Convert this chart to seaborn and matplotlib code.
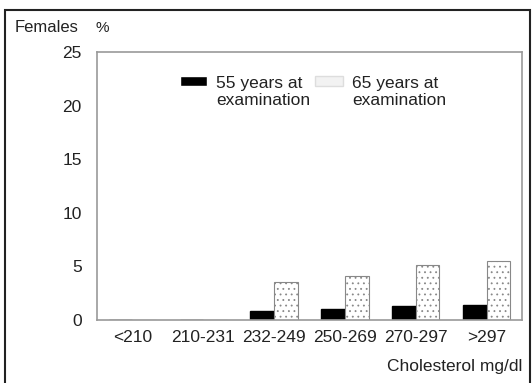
import pandas as pd
import matplotlib
matplotlib.use("Agg")
import matplotlib.pyplot as plt
import seaborn as sns
from matplotlib.patches import Rectangle

# Data
categories = ["<210", "210-231", "232-249", "250-269", "270-297", ">297"]
age55 = [0, 0, 0.85, 1.0, 1.3, 1.4]
age65 = [0, 0, 3.5, 4.1, 5.1, 5.5]
groups = ["55 years at\nexamination", "65 years at\nexamination"]

df = pd.DataFrame({
    "Cholesterol": categories * 2,
    "Percent": age55 + age65,
    "Group": [groups[0]] * len(categories) + [groups[1]] * len(categories),
})

sns.set_style("white")
plt.rcParams["font.family"] = ["Liberation Sans", "DejaVu Sans"]
plt.rcParams["hatch.color"] = "#b5b5b5"
plt.rcParams["hatch.linewidth"] = 0.6

fig = plt.figure(figsize=(5.32, 3.83), dpi=100)
ax = fig.add_axes([97 / 532, 1 - 320 / 383, 425 / 532, 268 / 383])

sns.barplot(data=df, x="Cholesterol", y="Percent", hue="Group",
            order=categories, hue_order=groups, palette=["black", "white"],
            width=0.67, dodge=True, ax=ax, errorbar=None, legend=True)

# style the 65-year bars: speckled white with grey edges
for bar in ax.containers[1]:
    bar.set_edgecolor("#888888")
    bar.set_linewidth(0.8)
    bar.set_hatch("...")
for bar in ax.containers[0]:
    bar.set_edgecolor("black")

ax.set_ylim(0, 25)
ax.set_xlim(-0.5, 5.5)
ax.set_yticks([0, 5, 10, 15, 20, 25])
ax.tick_params(axis="x", length=0, labelsize=12.5, colors="#222222", pad=7)
ax.tick_params(axis="y", length=0, labelsize=12.5, colors="#222222", pad=11)
ax.set_xlabel("")
ax.set_ylabel("")
for s in ax.spines.values():
    s.set_color("#999999")
    s.set_linewidth(1.2)

leg = ax.legend(ncol=2, frameon=False, fontsize=12.5, loc="upper left",
                bbox_to_anchor=(0.17, 0.95), handlelength=1.6, handleheight=0.5,
                columnspacing=0.3, handletextpad=0.5, labelspacing=0.2,
                borderpad=0.1)
for t in leg.get_texts():
    t.set_color("#222222")
for h in leg.legend_handles:
    h.set_y(9)
leg.legend_handles[1].set_edgecolor("#dddddd")
leg.legend_handles[1].set_facecolor("#f2f2f2")

fig.text(15 / 532, 1 - 27 / 383, "Females", fontsize=12, va="center", color="#222222")
fig.text(96 / 532, 1 - 28 / 383, "%", fontsize=11, va="center", color="#222222")
fig.text(522 / 532, 1 - 367 / 383, "Cholesterol mg/dl", fontsize=12.5, ha="right",
         va="center", color="#222222")

# border around the whole figure
fig.patches.append(Rectangle((5 / 532, -0.01), 525 / 532, 1 - 10 / 383 + 0.01,
                             transform=fig.transFigure, fill=False,
                             edgecolor="#222222", linewidth=1.5))

fig.savefig("out.png", dpi=100)
